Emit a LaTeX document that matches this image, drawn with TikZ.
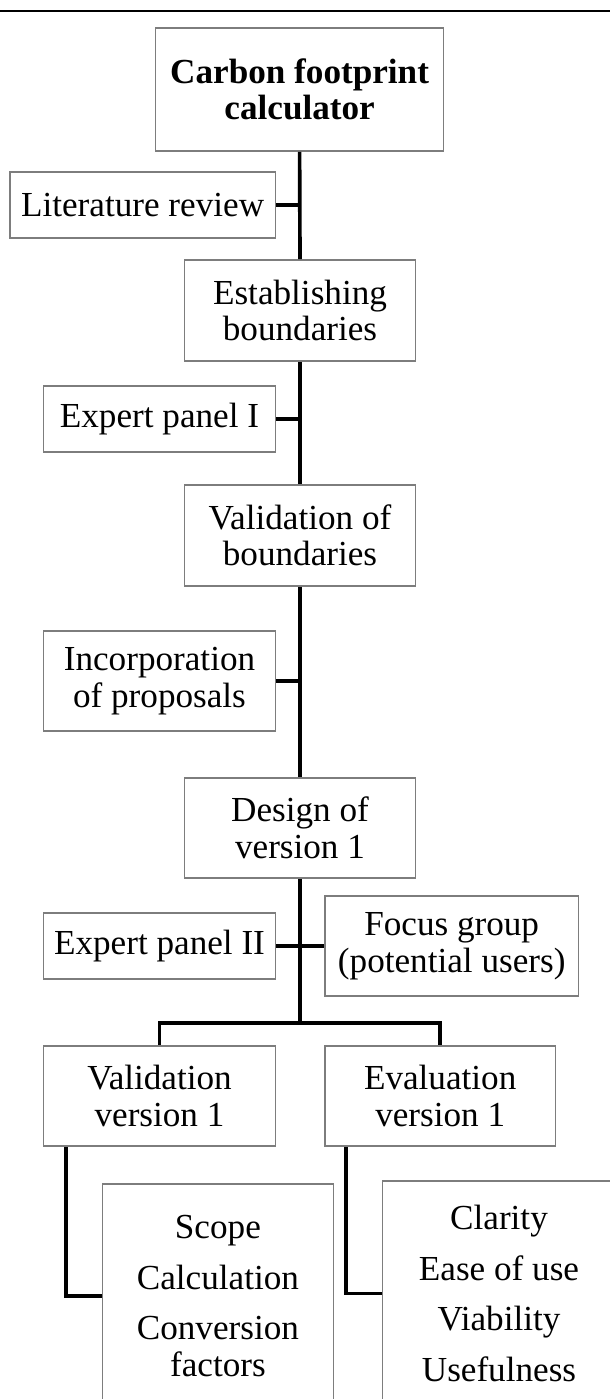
\documentclass[tikz,border=0pt]{standalone}
\usepackage{fontspec}
\setmainfont{Liberation Serif}
\usepackage{tikz}
\definecolor{boxgray}{RGB}{125,125,125}
\tikzset{
	box/.style={draw=boxgray, line width=1.2pt, fill=white, align=center, inner sep=0pt,
		font=\fontsize{25}{26}\selectfont},
	stage/.style={box, minimum width=5.77cm, minimum height=2.5cm},
	side/.style={box, minimum width=5.8cm, minimum height=1.65cm},
	link/.style={line width=2.6pt}
}

\begin{document}
\begin{tikzpicture}[x=0.025cm, y=-0.025cm]
			\useasboundingbox (0,0) rectangle (610,1399);
			\clip (0,0) rectangle (610,1399);
			\draw[line width=1.6pt] (0,11) -- (610,11);
			\node[box, minimum width=7.2cm, minimum height=3.075cm] (calc) at (299.6,89.5) {\textbf{Carbon footprint}\\\textbf{calculator}};
			\node[side, minimum width=6.64cm] (lit) at (142.6,205) {Literature review};
			\node[stage, minimum height=2.525cm] (estab) at (300,310.5) {Establishing\\boundaries};
			\node[side] (exp1) at (159.5,419) {Expert panel I};
			\node[stage, minimum height=2.525cm] (valb) at (300,535.5) {Validation of\\boundaries};
			\node[side, minimum height=2.5cm] (incorp) at (159.5,681) {Incorporation\\of proposals};
			\node[stage] (design) at (300,828) {Design of\\version 1};
			\node[side] (exp2) at (159.5,946) {Expert panel II};
			\node[stage, minimum width=6.34cm] (focus) at (451.7,946) {Focus group\\(potential users)};
			\node[side, minimum height=2.5cm] (valv) at (159.5,1096) {Validation\\version 1};
			\node[stage] (evalv) at (440.2,1096) {Evaluation\\version 1};
			\node[box, minimum width=5.775cm, minimum height=5.6cm] (scope) at (217.9,1296) {Scope\\[0.35cm]Calculation\\[0.35cm]Conversion\\factors};
			\node[box, minimum width=5.825cm, minimum height=5.625cm] (clar) at (499,1293.5) {Clarity\\[0.35cm]Ease of use\\[0.35cm]Viability\\[0.35cm]Usefulness};
			\coordinate (split) at (300,1023);
			\draw[link] (calc.south) -- (estab.north);
			\draw[link] (lit.east) -- (lit.east -| calc.south);
			\draw[link] (estab.south) -- (valb.north);
			\draw[link] (exp1.east) -- (exp1.east -| estab.south);
			\draw[link] (valb.south) -- (design.north);
			\draw[link] (incorp.east) -- (incorp.east -| valb.south);
			\draw[link] (design.south) -- (split);
			\draw[link] (exp2.east) -- (focus.west);
			%\draw[link] (design.south) |- (focus.west);
			\draw[link] (valv.north) |- (split) -| (evalv.north);
			\draw[link] ([xshift=0.58cm]valv.south west) |- (scope.west);
			\draw[link] ([xshift=0.55cm]evalv.south west) |- (clar.west);
\end{tikzpicture}
\end{document}
